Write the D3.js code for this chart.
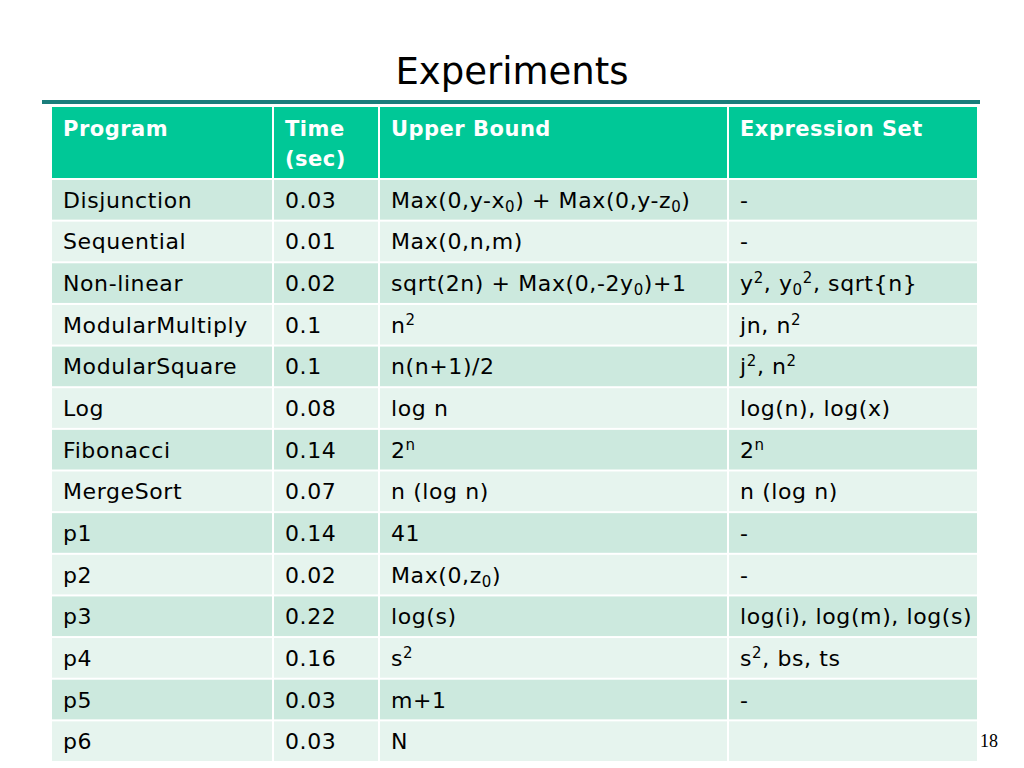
<!DOCTYPE html>
<html>
<head>
<style>
body{ margin:0; background:#fff; }
text{ font-family: "Comic Sans MS", "DejaVu Sans", sans-serif; }
</style>
</head>
<body>
<svg id="tbl"></svg>
<script src="https://cdn.jsdelivr.net/npm/d3@7"></script>
<script>
// table contents, _{..} = subscript, ^{..} = superscript
var headers = ["Program", "Time\n(sec)", "Upper Bound", "Expression Set"];
var programs = ["Disjunction", "Sequential", "Non-linear", "ModularMultiply", "ModularSquare", "Log",
    "Fibonacci", "MergeSort", "p1", "p2", "p3", "p4", "p5", "p6"];
var times = ["0.03", "0.01", "0.02", "0.1", "0.1", "0.08", "0.14", "0.07", "0.14", "0.02", "0.22", "0.16", "0.03", "0.03"];
var bounds = ["Max(0,y-x_{0}) + Max(0,y-z_{0})", "Max(0,n,m)", "sqrt(2n) + Max(0,-2y_{0})+1", "n^{2}", "n(n+1)/2",
    "log n", "2^{n}", "n (log n)", "41", "Max(0,z_{0})", "log(s)", "s^{2}", "m+1", "N"];
var exprs = ["-", "-", "y^{2}, y_{0}^{2}, sqrt{n}", "jn, n^{2}", "j^{2}, n^{2}", "log(n), log(x)", "2^{n}",
    "n (log n)", "-", "-", "log(i), log(m), log(s)", "s^{2}, bs, ts", "-", ""];

var W = 1024, H = 768;
var colEdges = [52, 274, 380, 729, 979];   // left edges of the columns and right edge of table
var headTop = 107, headBottom = 178, bodyBottom = 761;

var svg = d3.select('#tbl').attr('width', W).attr('height', H);

// title and the rule beneath it
svg.append('text')
    .attr('x', 512).attr('y', 84)
    .attr('text-anchor', 'middle')
    .style('font-size', '37px')
    .attr('fill', '#000')
    .text('Experiments');

svg.append('rect')
    .attr('x', 42).attr('y', 100)
    .attr('width', 938).attr('height', 4)
    .attr('fill', '#1a7d7b');

var col = d3.scaleOrdinal().domain([0, 1, 2, 3]).range(colEdges.slice(0, 4));
var colW = function (i) { return colEdges[i + 1] - colEdges[i]; };
var rowIdx = d3.range(programs.length);
var y = d3.scaleBand().domain(rowIdx).range([headBottom + 2, bodyBottom + 2]).paddingInner(0);

// header cells
var head = svg.append('g');
head.selectAll('rect').data(headers).enter().append('rect')
    .attr('x', function (d, i) { return col(i); })
    .attr('y', headTop)
    .attr('width', function (d, i) { return colW(i) - 2; })
    .attr('height', headBottom - headTop)
    .attr('fill', '#00c897');

head.selectAll('text').data(headers).enter().append('text')
    .attr('x', function (d, i) { return col(i) + 11; })
    .attr('y', headTop + 29)
    .attr('fill', '#fff')
    .style('font-size', '21px')
    .style('letter-spacing', '0.5px')
    .style('font-weight', 'bold')
    .each(function (d, i) {
        var t = d3.select(this);
        d.split('\n').forEach(function (line, k) {
            t.append('tspan').attr('x', col(i) + 11).attr('dy', k ? 30 : 0).text(line);
        });
    });

// body rows
var rows = rowIdx.map(function (i) { return [programs[i], times[i], bounds[i], exprs[i]]; });

var rowG = svg.selectAll('.row').data(rows).enter().append('g')
    .attr('class', 'row')
    .attr('transform', function (d, i) { return 'translate(0,' + y(i) + ')'; });

rowG.selectAll('rect').data(function (d) { return d; }).enter().append('rect')
    .attr('x', function (d, i) { return col(i); })
    .attr('y', 0)
    .attr('width', function (d, i) { return colW(i) - 2; })
    .attr('height', y.bandwidth() - 2)
    .attr('fill', function () {
        var r = d3.select(this.parentNode).datum();
        return rows.indexOf(r) % 2 === 0 ? '#cce9de' : '#e6f4ee';
    });

function richText(sel, str) {
    // split into plain, subscript and superscript parts
    var re = /([_^])\{([^}]*)\}/g, last = 0, m;
    while ((m = re.exec(str)) !== null) {
        if (m.index > last) sel.append('tspan').text(str.slice(last, m.index));
        sel.append('tspan')
            .attr('baseline-shift', m[1] === '_' ? '-4px' : '8px')
            .style('font-size', '15px')
            .text(m[2]);
        last = re.lastIndex;
    }
    if (last < str.length) sel.append('tspan').text(str.slice(last));
}

rowG.selectAll('text').data(function (d) { return d; }).enter().append('text')
    .attr('x', function (d, i) { return col(i) + 11; })
    .attr('y', y.bandwidth() / 2 + 7)
    .attr('fill', '#000')
    .style('font-size', '22px')
    .style('letter-spacing', '0.6px')
    .each(function (d) { richText(d3.select(this), d); });

// page number
svg.append('text')
    .attr('x', 980).attr('y', 747)
    .style('font-family', '"Liberation Serif", serif')
    .style('font-size', '18px')
    .text('18');
</script>
</body>
</html>
